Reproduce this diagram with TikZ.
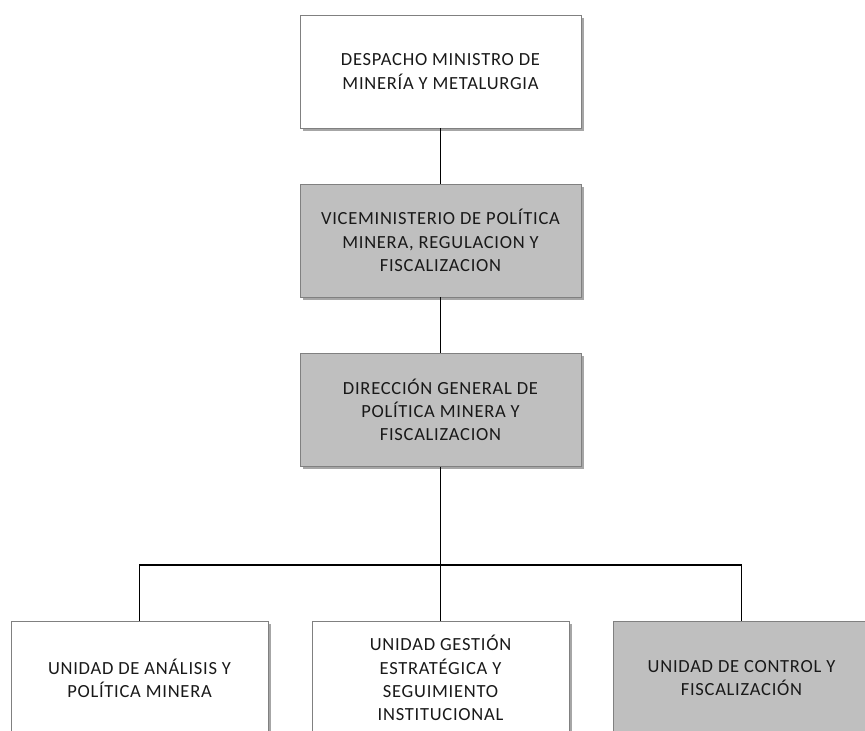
\documentclass[tikz,border=0pt]{standalone}
\usepackage{fontspec}
\setmainfont{Carlito}[LetterSpace=4]
\usetikzlibrary{shadows}
\definecolor{boxgray}{RGB}{191,191,191}
\definecolor{edgegray}{RGB}{128,128,128}
\definecolor{inktext}{RGB}{25,25,25}
\tikzset{
  unit/.style={draw=edgegray, line width=0.8pt, minimum width=281pt, minimum height=113pt,
    align=center, font=\fontsize{18.5}{23.3}\selectfont, text=inktext, inner sep=0pt,
    drop shadow={shadow xshift=2.5pt, shadow yshift=-2.5pt, opacity=0.35, fill=black}},
  whitebox/.style={unit, fill=white},
  graybox/.style={unit, fill=boxgray},
  lowbox/.style={minimum width=257pt, minimum height=114pt},
  link/.style={draw=black, line width=1.1pt}
}
\begin{document}
\begin{tikzpicture}[x=1pt,y=-1pt]
\useasboundingbox (0,0) rectangle (865,731);
\clip (0,0) rectangle (865,731);
\fill[white] (0,0) rectangle (865,731);
\node[whitebox] (desp) at (440.5,71.5) {DESPACHO MINISTRO DE\\MINERÍA Y METALURGIA};
\node[graybox] (vice) at (440.5,240.5) {VICEMINISTERIO DE POLÍTICA\\MINERA, REGULACION Y\\FISCALIZACION};
\node[graybox] (dir) at (440.5,410) {DIRECCIÓN GENERAL DE\\POLÍTICA MINERA Y\\FISCALIZACION};
\node[whitebox, lowbox] (u1) at (139.5,678) {UNIDAD DE ANÁLISIS Y\\POLÍTICA MINERA};
\node[whitebox, lowbox] (u2) at (440.5,678) {UNIDAD GESTIÓN\\ESTRATÉGICA Y\\SEGUIMIENTO\\INSTITUCIONAL};
\node[graybox, lowbox] (u3) at (741.5,678) {UNIDAD DE CONTROL Y\\FISCALIZACIÓN};
\coordinate (bus) at (440.5,565);
\draw[link] (desp.south) -- (vice.north);
\draw[link] (vice.south) -- (dir.north);
\draw[link] (dir.south) -- (bus);
\draw[link] (u1.north) -- (u1.north |- bus) -- (u3.north |- bus) -- (u3.north);
\draw[link] (bus) -- (u2.north);
\end{tikzpicture}
\end{document}
